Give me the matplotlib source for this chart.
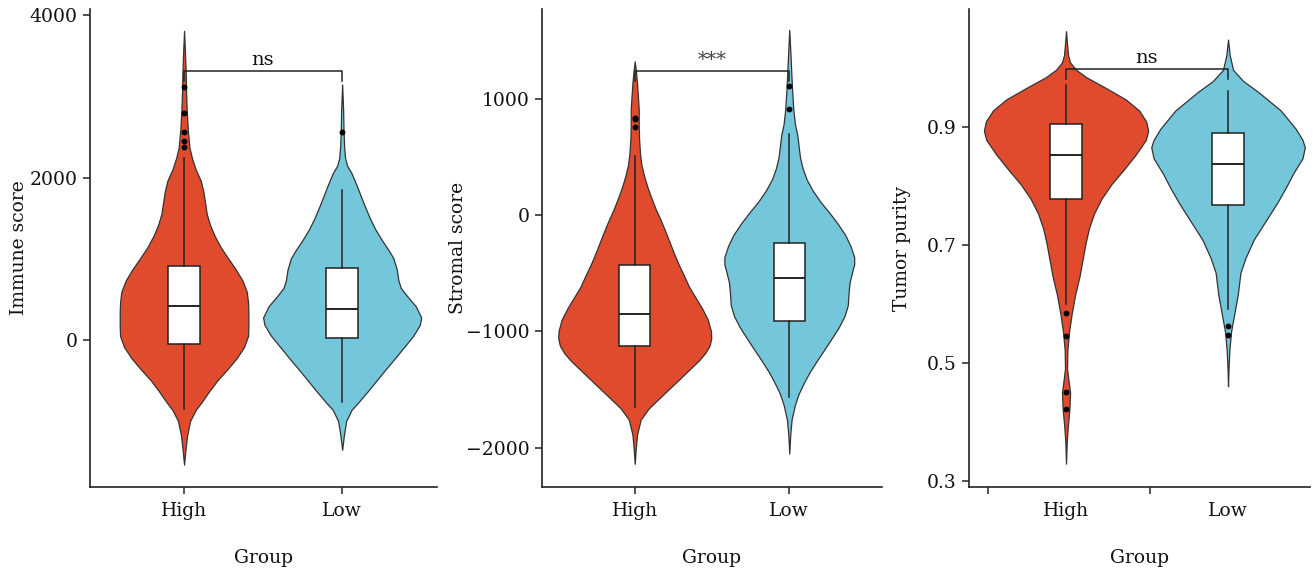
import numpy as np
import matplotlib.pyplot as plt

plt.rcParams['font.family'] = ['DejaVu Serif']

groups = ["High", "Low"]
group_colors = ["#E04B2D", "#74C6DA"]

# ---------------- Immune score ----------------
immune_high_grid = [3805, 3509, 3281, 3054, 2826, 2599, 2371, 2235, 2098, 1961, 1825,
                    1688, 1552, 1415, 1279, 1142, 1006, 870, 733, 596, 460, 323, 187,
                    50, -86, -223, -360, -496, -633, -769, -860, -997, -1179, -1361, -1534]
immune_high_dens = [0, 3, 5, 6, 8, 11, 16, 24, 35, 50, 58,
                    63, 68, 78, 92, 110, 132, 155, 175, 188, 192, 193, 193,
                    192, 180, 158, 130, 100, 75, 52, 35, 18, 9, 4, 0]
immune_low_grid = [3145, 2826, 2599, 2371, 2235, 2144, 2053, 1916, 1779, 1643, 1506,
                   1370, 1233, 1097, 1006, 870, 733, 642, 551, 414, 278, 187, 50,
                   -86, -223, -360, -496, -633, -769, -860, -997, -1179, -1352]
immune_low_dens = [0, 3, 4, 6, 9, 15, 28, 42, 55, 68, 82,
                   98, 118, 140, 153, 163, 168, 175, 192, 220, 236, 232, 212,
                   185, 158, 130, 103, 76, 48, 28, 12, 5, 0]
immune_box = [
    dict(q1=-50, med=423, q3=906, whislo=-846, whishi=2235,
         fliers=[2371, 2453, 2562, 2794, 3117]),
    dict(q1=23, med=387, q3=887, whislo=-760, whishi=1848, fliers=[2562]),
]
immune_widths = [0.814, 1.0]

# ---------------- Stromal score ----------------
stromal_high_grid = [1321, 1226, 1130, 1003, 908, 781, 654, 527, 432, 337, 241, 146, 51,
                     -44, -140, -235, -330, -425, -521, -616, -711, -806, -902, -997,
                     -1060, -1124, -1187, -1251, -1314, -1410, -1505, -1600, -1664,
                     -1759, -1886, -2013, -2140]
stromal_high_dens = [0, 4, 7, 10, 12, 12, 13, 16, 20, 28, 38, 50, 63,
                     78, 92, 105, 118, 132, 148, 163, 183, 203, 220, 229,
                     230, 225, 212, 193, 170, 135, 100, 65, 42,
                     18, 7, 3, 0]
stromal_low_grid = [1591, 1416, 1289, 1099, 908, 781, 686, 591, 495, 400, 305, 210, 114,
                    19, -76, -171, -267, -362, -425, -489, -584, -680, -775, -870,
                    -965, -1060, -1156, -1251, -1346, -1441, -1537, -1632, -1759,
                    -1886, -2051]
stromal_low_dens = [0, 3, 5, 8, 12, 17, 24, 28, 32, 40, 52, 70, 93,
                    120, 145, 167, 183, 194, 194, 188, 180, 177, 175, 165,
                    148, 127, 105, 83, 62, 44, 28, 17, 7,
                    3, 0]
stromal_box = [
    dict(q1=-1127, med=-848, q3=-432, whislo=-1648, whishi=505, fliers=[759, 829, 838]),
    dict(q1=-911, med=-543, q3=-244, whislo=-1568, whishi=692, fliers=[908, 1108]),
]
stromal_widths = [0.99, 0.84]

# ---------------- Tumor purity ----------------
purity_high_grid = [1.0625, 1.0406, 1.0219, 1.0094, 0.9969, 0.9844, 0.9656, 0.9469,
                    0.9281, 0.9094, 0.8938, 0.8781, 0.8531, 0.8281, 0.8031, 0.7781,
                    0.7531, 0.7281, 0.7031, 0.6781, 0.6469, 0.6156, 0.5844, 0.5531,
                    0.5219, 0.4906, 0.4719, 0.45, 0.4219, 0.3906, 0.3656, 0.3294]
purity_high_dens = [0, 3, 6, 12, 30, 60, 120, 177,
                    217, 238, 244, 237, 207, 172, 135, 105,
                    83, 68, 58, 50, 40, 27, 17, 9,
                    4, 3, 7, 12, 10, 5, 2, 0]
purity_low_grid = [1.0481, 1.0219, 0.9969, 0.9781, 0.9594, 0.9281, 0.8969, 0.8781,
                   0.8656, 0.8469, 0.8219, 0.7969, 0.7719, 0.7406, 0.7094, 0.6781,
                   0.6531, 0.6156, 0.5844, 0.5531, 0.5219, 0.4906, 0.4606]
purity_low_dens = [0, 5, 15, 45, 90, 157, 202, 222,
                   229, 222, 195, 172, 147, 112, 77, 52,
                   37, 29, 19, 9, 4, 1.5, 0]
purity_box = [
    dict(q1=0.778, med=0.8525, q3=0.9056, whislo=0.600, whishi=0.971,
         fliers=[0.584, 0.546, 0.45, 0.422]),
    dict(q1=0.7675, med=0.837, q3=0.889, whislo=0.591, whishi=0.961,
         fliers=[0.562, 0.5475]),
]
purity_widths = [1.014, 0.948]

panels = [
    dict(label="Immune score", grids=[immune_high_grid, immune_low_grid],
         dens=[immune_high_dens, immune_low_dens], box=immune_box, widths=immune_widths,
         sig="ns", bracket=(3311, 3188), yticks=[0, 2000, 4000], ylim=(-1809, 4074),
         xlim=(0.405, 2.6), rect=[90, 437], ylab_x=-0.18, xticks=None),
    dict(label="Stromal score", grids=[stromal_high_grid, stromal_low_grid],
         dens=[stromal_high_dens, stromal_low_dens], box=stromal_box, widths=stromal_widths,
         sig="***", bracket=(1238, 1152), yticks=[-2000, -1000, 0, 1000],
         ylim=(-2339, 1771), xlim=(0.4, 2.6), rect=[542, 882], ylab_x=-0.22, xticks=None),
    dict(label="Tumor purity", grids=[purity_high_grid, purity_low_grid],
         dens=[purity_high_dens, purity_low_dens], box=purity_box, widths=purity_widths,
         sig="ns", bracket=(0.998, 0.981), yticks=[0.3, 0.5, 0.7, 0.9],
         ylim=(0.2898, 1.100), xlim=(0.401, 2.506), rect=[969, 1310], ylab_x=-0.17,
         xticks=[0.52, 1.52]),
]

W, H = 1316, 578
fig = plt.figure(figsize=(W / 100, H / 100), dpi=100)
top_px, bottom_px = 9, 487
axis_color = "#222222"
text_color = "#111111"

for p in panels:
    left, right = p["rect"]
    ax = fig.add_axes([left / W, 1 - bottom_px / H, (right - left) / W,
                       (bottom_px - top_px) / H])
    positions = [1, 2]

    vpstats = []
    for g, d, b in zip(p["grids"], p["dens"], p["box"]):
        vpstats.append(dict(coords=np.array(g, float), vals=np.array(d, float),
                            mean=b["med"], median=b["med"],
                            min=min(g), max=max(g)))
    parts = ax.violin(vpstats, positions=positions, widths=p["widths"],
                      showmeans=False, showextrema=False, showmedians=False)
    for body, col in zip(parts["bodies"], group_colors):
        body.set_facecolor(col)
        body.set_edgecolor("#333333")
        body.set_linewidth(0.9)
        body.set_alpha(1)
        body.set_zorder(1)

    ax.bxp(p["box"], positions=positions, widths=0.2, patch_artist=True,
           showcaps=False, manage_ticks=False, zorder=3,
           boxprops=dict(facecolor="white", edgecolor=axis_color, linewidth=1.1),
           medianprops=dict(color=axis_color, linewidth=1.4),
           whiskerprops=dict(color=axis_color, linewidth=1.1),
           flierprops=dict(marker="o", markersize=3.2, markerfacecolor="black",
                           markeredgecolor="black", linestyle="none"))

    top, tip = p["bracket"]
    ax.plot([1, 1, 2, 2], [tip, top, top, tip], color=axis_color, lw=1.1, zorder=4)
    ax.annotate(p["sig"], xy=(1.5, top), xytext=(0, 1.5), textcoords="offset points",
                ha="center", va="bottom", fontsize=14,
                color=text_color if p["sig"] == "ns" else "#444444")

    ax.set_xlim(*p["xlim"])
    ax.set_ylim(*p["ylim"])
    ax.set_yticks(p["yticks"])
    ax.set_yticklabels([f"{v:g}" if abs(v) < 10 else f"{int(v)}".replace("-", "\u2212")
                        for v in p["yticks"]])

    if p["xticks"] is None:
        ax.set_xticks(positions)
        ax.set_xticklabels(groups)
        ax.tick_params(axis="x", length=5, pad=6)
    else:
        ax.set_xticks(p["xticks"])
        ax.set_xticklabels(["", ""])
        ax.set_xticks(positions, minor=True)
        ax.set_xticklabels(groups, minor=True)
        ax.tick_params(axis="x", which="major", length=5)
        ax.tick_params(axis="x", which="minor", length=0, pad=11)

    ax.tick_params(axis="x", which="both", labelsize=13.5, color=axis_color,
                   width=1.1, labelcolor=text_color)
    ax.tick_params(axis="y", labelsize=13.5, color=axis_color, width=1.1,
                   labelcolor=text_color, length=5, pad=4)

    for s in ["top", "right"]:
        ax.spines[s].set_visible(False)
    for s in ["left", "bottom"]:
        ax.spines[s].set_color(axis_color)
        ax.spines[s].set_linewidth(1.2)

    ax.set_ylabel(p["label"], fontsize=13.5, color=text_color)
    ax.yaxis.set_label_coords(p["ylab_x"], 0.5)
    ax.set_xlabel("Group", fontsize=13.5, color=text_color)
    ax.xaxis.set_label_coords(0.5, -0.13)

fig.savefig("out.png", dpi=100)
